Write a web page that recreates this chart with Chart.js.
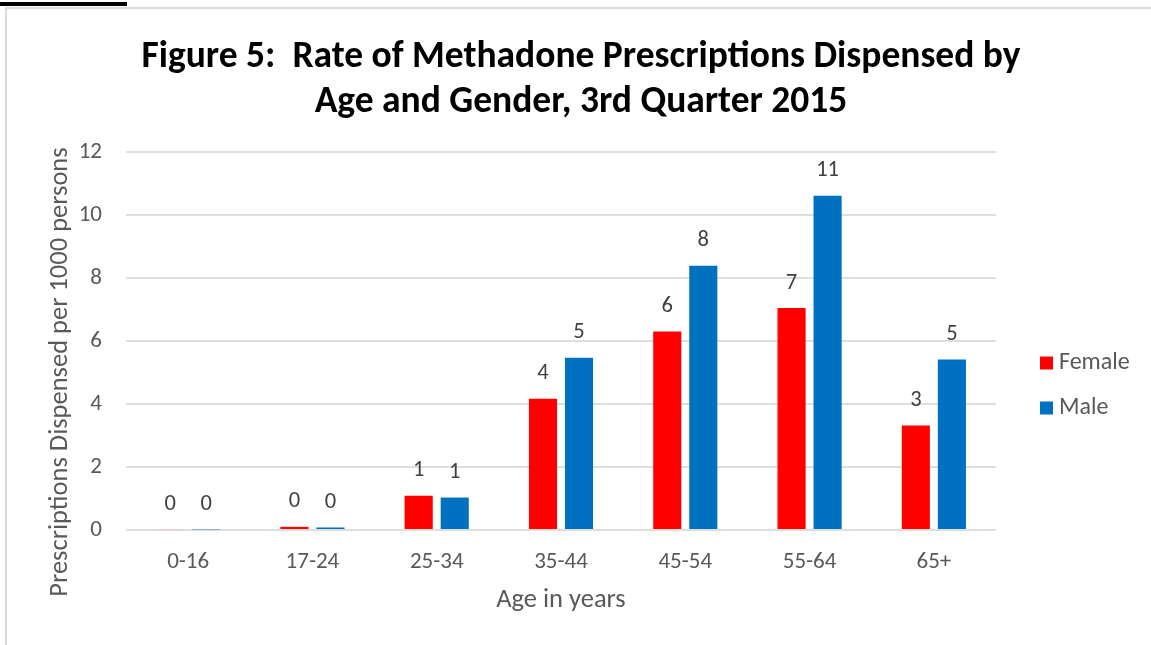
<!DOCTYPE html>
<html>
<head>
<meta charset="utf-8">
<title>Figure 5</title>
<script src="https://cdn.jsdelivr.net/npm/chart.js@4.4.0/dist/chart.umd.min.js"></script>
<style>
  html, body { margin: 0; padding: 0; background: #fff; }
  #wrap { position: relative; width: 1151px; height: 645px; overflow: hidden; }
  #frame { position: absolute; left: 5px; top: 7px; width: 1200px; height: 700px;
           border-left: 2px solid #dadada; border-top: 2px solid #dadada; }
  #cut { position: absolute; left: 0; top: 2px; width: 127px; height: 4px; background: #000; }
  #chart { position: absolute; left: 0; top: 0; }
</style>
</head>
<body>
<div id="wrap">
  <div id="frame"></div>
  <div id="cut"></div>
  <canvas id="chart" width="1151" height="645"></canvas>
</div>
<script>
// values
const ageGroups = ['0-16', '17-24', '25-34', '35-44', '45-54', '55-64', '65+'];
const femaleRate = [0.03, 0.10, 1.09, 4.17, 6.30, 7.05, 3.32];
const maleRate = [0.02, 0.08, 1.03, 5.47, 8.39, 10.61, 5.41];
const yTicks = [0, 2, 4, 6, 8, 10, 12];

const FONT = "Carlito, Calibri, Lato, sans-serif";
const GREY = '#595959';

// value labels over each bar (rounded like the original)
const barLabels = {
  id: 'barLabels',
  afterDatasetsDraw(chart) {
    const ctx = chart.ctx;
    ctx.save();
    ctx.font = '22.5px ' + FONT;
    ctx.fillStyle = '#404040';
    ctx.textAlign = 'center';
    ctx.textBaseline = 'middle';
    chart.data.datasets.forEach((ds, i) => {
      chart.getDatasetMeta(i).data.forEach((bar, j) => {
        ctx.fillText(Math.round(ds.data[j]), bar.x, bar.y - 25);
      });
    });
    ctx.restore();
  }
};

// y axis title sits lower than the plot centre in the original
const yTitle = {
  id: 'yTitle',
  afterDraw(chart) {
    const ctx = chart.ctx;
    ctx.save();
    ctx.translate(60, 372);
    ctx.rotate(-Math.PI / 2);
    ctx.font = '26.5px ' + FONT;
    ctx.fillStyle = GREY;
    ctx.textAlign = 'center';
    ctx.textBaseline = 'middle';
    ctx.fillText('Prescriptions Dispensed per 1000 persons', 0, 0);
    ctx.restore();
  }
};

// legend to the right, stacked
const sideLegend = {
  id: 'sideLegend',
  afterDraw(chart) {
    const ctx = chart.ctx;
    const x = chart.chartArea.right + 44;
    ctx.save();
    ctx.font = '24px ' + FONT;
    ctx.textBaseline = 'middle';
    chart.data.datasets.forEach((ds, i) => {
      const y = 363 + i * 45;
      ctx.fillStyle = ds.backgroundColor;
      ctx.fillRect(x, y - 6.5, 13, 13);
      ctx.fillStyle = GREY;
      ctx.fillText(ds.label, x + 19, y);
    });
    ctx.restore();
  }
};

new Chart(document.getElementById('chart'), {
  type: 'bar',
  data: {
    labels: ageGroups,
    datasets: [
      { label: 'Female', data: femaleRate, backgroundColor: '#ff0000',
        categoryPercentage: 0.58, barPercentage: 0.78 },
      { label: 'Male', data: maleRate, backgroundColor: '#0070c0',
        categoryPercentage: 0.58, barPercentage: 0.78 }
    ]
  },
  options: {
    responsive: false,
    animation: false,
    layout: { padding: { left: 11, right: 0, top: 0, bottom: 0 } },
    plugins: {
      legend: { display: false },
      tooltip: { enabled: false },
      title: {
        display: true,
        text: ['Figure 5:  Rate of Methadone Prescriptions Dispensed by', 'Age and Gender, 3rd Quarter 2015'],
        color: '#000',
        font: { family: FONT, size: 37.5, weight: 'bold', lineHeight: 1.2 },
        padding: { top: 35, bottom: 27 }
      }
    },
    scales: {
      x: {
        grid: { display: false, drawTicks: false },
        border: { display: false },
        ticks: { color: GREY, font: { family: FONT, size: 23 }, padding: 18 },
        title: { display: true, text: 'Age in years', color: GREY,
                 font: { family: FONT, size: 26.5 }, padding: { top: 0, bottom: 28.5 } },
        afterFit(s) { s.height = 115; }
      },
      y: {
        min: 0,
        max: 12,
        afterBuildTicks(s) { s.ticks = yTicks.map(v => ({ value: v })); },
        grid: { color: '#dedede', lineWidth: 2, drawTicks: false },
        border: { display: false },
        ticks: { color: GREY, font: { family: FONT, size: 23 }, padding: 24 },
        afterFit(s) { s.width = 115; }
      },
      gap: {
        type: 'linear',
        position: 'right',
        grid: { display: false },
        border: { display: false },
        ticks: { display: false },
        afterFit(s) { s.width = 155; }
      }
    }
  },
  plugins: [barLabels, yTitle, sideLegend]
});
</script>
</body>
</html>
